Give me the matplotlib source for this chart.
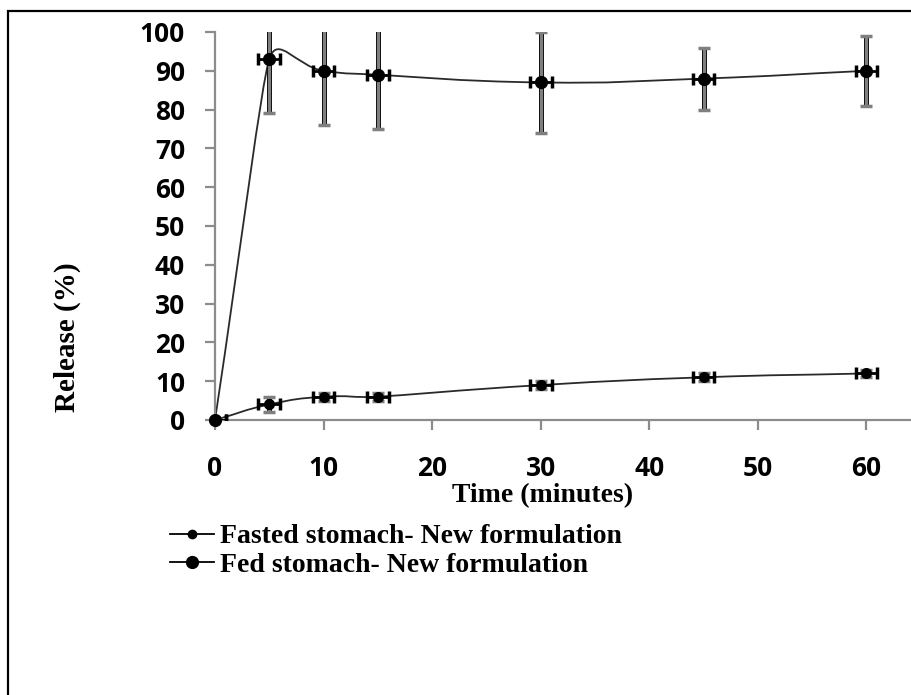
import numpy as np
import matplotlib
matplotlib.use("Agg")
import matplotlib.pyplot as plt
from matplotlib.path import Path
from matplotlib.patches import PathPatch, Rectangle
from matplotlib.lines import Line2D
import matplotlib.patheffects as pe

# data
time_min = [0, 5, 10, 15, 30, 45, 60]
fasted = [0, 4, 6, 6, 9, 11, 12]
fasted_yerr = [0.5, 2, 1, 1, 1, 1, 1]
fed = [0, 93, 90, 89, 87, 88, 90]
fed_yerr = [0, 14, 14, 14, 13, 8, 9]
time_err = [1, 1, 1, 1, 1, 1, 1]
xticks = [0, 10, 20, 30, 40, 50, 60]
yticks = [0, 10, 20, 30, 40, 50, 60, 70, 80, 90, 100]

W, H = 912, 695
serif = ['Liberation Serif', 'DejaVu Serif']
sans = ['Open Sans', 'DejaVu Sans']

plt.rcParams['font.family'] = sans
plt.rcParams['font.weight'] = 'bold'


def smooth_line(ax, x, y, tension=0.5, **kw):
    # excel-like smoothed line, built in screen space then mapped back
    pts = ax.transData.transform(np.column_stack([x, y]))
    n = len(pts)
    seg = np.hypot(*(pts[1:] - pts[:-1]).T)
    # tangent length at each point limited by its shorter neighbouring segment
    lim = [min(seg[max(i - 1, 0)], seg[min(i, n - 2)]) for i in range(n)]
    verts = [pts[0]]
    codes = [Path.MOVETO]
    for i in range(n - 1):
        p0, p1 = pts[max(i - 1, 0)], pts[i]
        p2, p3 = pts[i + 1], pts[min(i + 2, n - 1)]
        t1 = (p2 - p0) / np.hypot(*(p2 - p0))
        t2 = (p3 - p1) / np.hypot(*(p3 - p1))
        verts += [p1 + tension * lim[i] * t1, p2 - tension * lim[i + 1] * t2, p2]
        codes += [Path.CURVE4] * 3
    verts = ax.transData.inverted().transform(np.array(verts))
    patch = PathPatch(Path(verts, codes), fill=False, **kw)
    ax.add_patch(patch)


def draw_series(ax, y, yerr, ms):
    # vertical error bars: gray with dark edge, black caps
    _, caps, bars = ax.errorbar(time_min, y, yerr=yerr, fmt='none', ecolor='#7f7f7f',
                                elinewidth=2.2, capsize=4.5, capthick=2.5, zorder=3)
    for c in caps:
        c.set_color('black')
    for b in bars:
        b.set_path_effects([pe.Stroke(linewidth=3.6, foreground='#111111'), pe.Normal()])
    ax.errorbar(time_min, y, xerr=time_err, fmt='none', ecolor='black',
                elinewidth=2, capsize=4.5, capthick=2.5, zorder=3)
    ax.plot(time_min, y, 'o', color='black', ms=ms, zorder=4, clip_on=False)


fig = plt.figure(figsize=(W / 100, H / 100), dpi=100)
ax = fig.add_axes([215 / W, 1 - 420 / H, 1 - 215 / W, (420 - 32) / H])
ax.set_xlim(0, 64.2)
ax.set_ylim(0, 100)

smooth_line(ax, time_min, fed, color='#2a2a2a', lw=1.3, zorder=2)
smooth_line(ax, time_min, fasted, color='#2a2a2a', lw=1.3, zorder=2)
draw_series(ax, fed, fed_yerr, 8.5)
draw_series(ax, fasted, fasted_yerr, 7)

for s in ['top', 'right']:
    ax.spines[s].set_visible(False)
for s in ['left', 'bottom']:
    ax.spines[s].set_color('#8c8c8c')
    ax.spines[s].set_linewidth(1.6)

ax.set_xticks(xticks)
ax.set_yticks(yticks)
ax.tick_params(axis='both', color='#8c8c8c', width=1.6, length=7.5, direction='out',
               labelsize=19)
ax.tick_params(axis='x', pad=18)
ax.tick_params(axis='y', pad=14)

fig.text(543 / W, 1 - 496 / H, 'Time (minutes)', family=serif, fontweight='bold',
         fontsize=20, ha='center', va='center')
fig.text(67 / W, 1 - 337 / H, 'Release (%)', family=serif, fontweight='bold',
         fontsize=21, ha='center', va='center', rotation=90)

handles = [Line2D([], [], color='black', lw=1.3, marker='o', ms=6),
           Line2D([], [], color='black', lw=1.3, marker='o', ms=8.5)]
fig.legend(handles, ['Fasted stomach- New formulation', 'Fed stomach- New formulation'],
           loc='upper left', bbox_to_anchor=(170 / W, 1 - 524 / H), frameon=False,
           prop={'family': serif, 'weight': 'bold', 'size': 20},
           handlelength=1.6, handletextpad=0.2, labelspacing=0.1,
           borderpad=0, borderaxespad=0)

# outer frame, runs off the right and bottom edge
fig.patches.append(Rectangle((8.5 / W, -0.1), 2, 1.1 - 11.5 / H, transform=fig.transFigure,
                             fill=False, lw=1.6, edgecolor='black'))

fig.savefig('out.png', dpi=100)
